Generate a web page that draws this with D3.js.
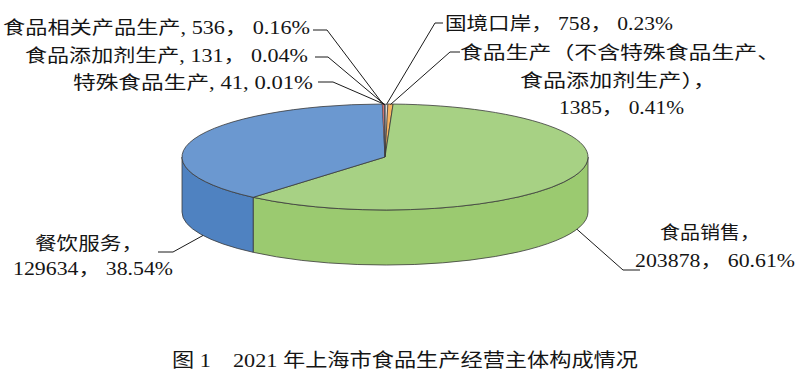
<!DOCTYPE html>
<html>
<head>
<meta charset="utf-8">
<script src="https://cdn.jsdelivr.net/npm/d3@7"></script>
<style>
  body { margin: 0; background: #fff; }
  svg text { font-family: "Liberation Serif", "Noto Sans CJK SC", serif; fill: #151515; }
</style>
</head>
<body>
<svg id="pie-svg" width="800" height="372"></svg>
<script>
// categories, clockwise from 12 o'clock
const names = ['国境口岸', '食品生产（不含特殊食品生产、食品添加剂生产）', '食品销售', '餐饮服务',
	'食品相关产品生产', '食品添加剂生产', '特殊食品生产'];
const values = [758, 1385, 203878, 129634, 536, 131, 41];
const shares = ['0.23%', '0.41%', '60.61%', '38.54%', '0.16%', '0.04%', '0.01%'];
const title = '图 1　2021 年上海市食品生产经营主体构成情况';

const topColors = ['#dedede', '#f8b460', '#a7d184', '#6b98d0', '#e27b79', '#8e7cc3', '#4bacc6'];
const sideColors = ['#c8c8c8', '#f39a45', '#9bca70', '#4f82c1', '#c0504d', '#7b66ad', '#3996ae'];

// label text lines built from the data
function labelLines(i) {
	const n = names[i], v = values[i], s = shares[i];
	switch (i) {
		case 0: return [n + '， ' + v + '， ' + s];
		case 1: return ['食品生产（不含特殊食品生产、', '食品添加剂生产），', v + '， ' + s];
		case 2:
		case 3: return [n + '，', v + '， ' + s];
		case 4:
		case 5: return [n + ', ' + v + '， ' + s];
		default: return [n + ', ' + v + ', ' + s];
	}
}

// label layout: per line [x0, x1, centerY]; leader: text end, elbow; anchor angle (deg) for big slices
const layout = [
	{lines: [[445, 673, 23]], leader: [[443, 23], [435, 23]]},
	{lines: [[460, 780, 52], [520, 716, 80], [559, 684, 107]], leader: [[460, 52], [450, 52]]},
	{lines: [[660, 760, 232], [635, 795, 260]], leader: [[640, 270], [623, 270]], anchor: 109},
	{lines: [[35, 143, 243], [13, 173, 268]], leader: [[158, 252], [173, 252]], anchor: 243.7},
	{lines: [[3, 310, 27]], leader: [[313, 30], [327, 30]]},
	{lines: [[25, 308, 55]], leader: [[315, 57], [328, 57]]},
	{lines: [[73, 313, 82]], leader: [[318, 82], [333, 82]]}
];

const svg = d3.select('#pie-svg');
const cx = 385, cy = 157, rx = 203, ry = 53, depth = 55;

const arcs = d3.pie().sort(null).value((d) => d)(values);

function pt(a, k = 1, dy = 0) {
	return [cx + rx * k * Math.sin(a), cy - ry * k * Math.cos(a) + dy];
}

function topPath(d) {
	const p0 = pt(d.startAngle), p1 = pt(d.endAngle);
	const large = d.endAngle - d.startAngle > Math.PI ? 1 : 0;
	return 'M' + cx + ',' + cy + 'L' + p0 + 'A' + rx + ',' + ry + ' 0 ' + large + ' 1 ' + p1 + 'Z';
}

function sidePath(d) {
	const s = Math.max(d.startAngle, Math.PI / 2);
	const e = Math.min(d.endAngle, Math.PI * 1.5);
	if (s >= e) return null;
	const large = e - s > Math.PI ? 1 : 0;
	return 'M' + pt(s) + 'A' + rx + ',' + ry + ' 0 ' + large + ' 1 ' + pt(e) +
		'L' + pt(e, 1, depth) + 'A' + rx + ',' + ry + ' 0 ' + large + ' 0 ' + pt(s, 1, depth) + 'Z';
}

const sides = svg.append('g').attr('class', 'sides');
sides.selectAll('path')
	.data(arcs.filter((d) => sidePath(d)))
	.enter().append('path')
	.attr('d', sidePath)
	.style('fill', (d) => sideColors[d.index])
	.style('stroke', '#3a3a3a')
	.style('stroke-width', 0.8)
	.style('stroke-linejoin', 'round');

const tops = svg.append('g').attr('class', 'tops');
tops.selectAll('path')
	.data(arcs)
	.enter().append('path')
	.attr('d', topPath)
	.style('fill', (d) => topColors[d.index])
	.style('stroke', '#3a3a3a')
	.style('stroke-width', (d) => d.endAngle - d.startAngle < 0.02 ? 0.4 : 0.8)
	.style('stroke-linejoin', 'round');

// leader lines
const leaders = svg.append('g').attr('class', 'leaders');
leaders.selectAll('polyline')
	.data(arcs)
	.enter().append('polyline')
	.attr('points', (d) => {
		const L = layout[d.index];
		const anchor = L.anchor != null
			? pt(L.anchor * Math.PI / 180, 1, depth)
			: pt((d.startAngle + d.endAngle) / 2, 0.99);
		return [L.leader[0], L.leader[1], anchor].map((p) => p.join(',')).join(' ');
	})
	.style('fill', 'none')
	.style('stroke', '#1a1a1a')
	.style('stroke-width', 1);

// labels
const labels = svg.append('g').attr('class', 'labels');
arcs.forEach((d) => {
	const lines = labelLines(d.index);
	lines.forEach((txt, j) => {
		const [x0, x1, y] = layout[d.index].lines[j];
		labels.append('text')
			.attr('x', x0)
			.attr('y', y + 6.5)
			.attr('textLength', x1 - x0)
			.attr('lengthAdjust', 'spacingAndGlyphs')
			.style('font-size', '18px')
			.text(txt);
	});
});

svg.append('text')
	.attr('x', 172)
	.attr('y', 367)
	.attr('textLength', 466)
	.attr('lengthAdjust', 'spacingAndGlyphs')
	.style('font-size', '19px')
	.text(title);
</script>
</body>
</html>
